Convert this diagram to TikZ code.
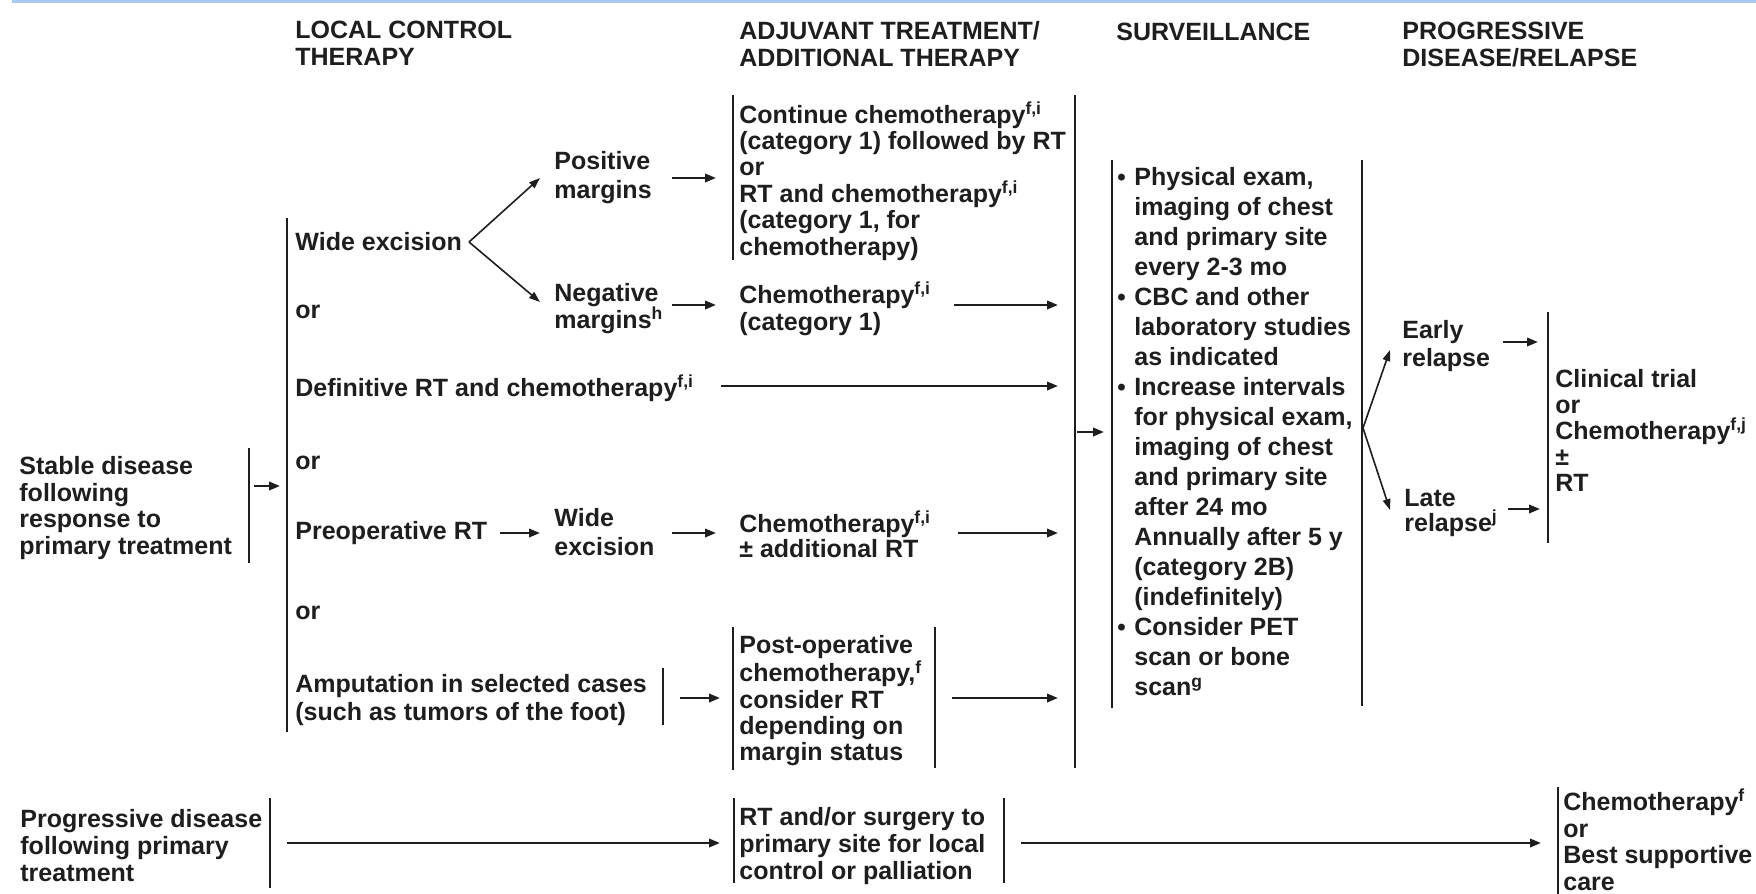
\documentclass[tikz,border=0pt]{standalone}
\usepackage{fontspec}
\setmainfont{Liberation Sans}
\usetikzlibrary{arrows.meta}
\definecolor{ink}{HTML}{1E1E1E}
\definecolor{topblue}{HTML}{A9C9EE}
\newcommand{\sfi}{\textsuperscript{f,i}}
\newcommand{\blt}{\makebox[8.5pt][l]{\fontsize{12}{12}\selectfont\raisebox{0.2pt}{•}}}
\newcommand{\ind}{\hspace*{8.5pt}}
\begin{document}
\begin{tikzpicture}[x=0.5pt,y=-0.5pt,
  txt/.style={font=\fontsize{12.5}{#1}\selectfont\bfseries, align=left, anchor=west, inner sep=0pt, text=ink},
  txt/.default=13.25,
  bar/.style={draw=ink, line width=1pt},
  arr/.style={draw=ink, line width=1.15pt, -{Triangle[length=5.5pt,width=4.2pt]}},
  fork/.style={draw=ink, line width=0.8pt, -{Triangle[length=5.5pt,width=3.8pt]}}]
\useasboundingbox (0,0) rectangle (1756,894);
\fill[white] (0,0) rectangle (1756,894);
\draw[topblue, line width=1.6pt] (12,1) -- (1756,1);

% headers
\node[txt=13.5] (hLocal) at (295,43.5) {LOCAL CONTROL\\THERAPY};
\node[txt=13.5] (hAdj) at (739,44.5) {ADJUVANT TREATMENT/\\ADDITIONAL THERAPY};
\node[txt] (hSurv) at (1116,32) {SURVEILLANCE};
\node[txt=13.5] (hProg) at (1402,44.5) {PROGRESSIVE\\DISEASE/RELAPSE};

% column 1
\node[txt=13.35] (stable) at (19,508) {Stable disease\\following\\response to\\primary treatment};
\draw[bar] (249,448) -- (249,563);
\draw[bar] (287,218) -- (287,732);

% local control therapy
\node[txt] (wide) at (295,242) {Wide excision};
\node[txt] (or1) at (295,312) {or};
\node[txt] (defin) at (295,388) {Definitive RT and chemotherapy\sfi};
\node[txt] (or2) at (295,463) {or};
\node[txt] (preop) at (295,533) {Preoperative RT};
\node[txt] (or3) at (295,613) {or};
\node[txt=14] (amput) at (295,700) {Amputation in selected cases\\(such as tumors of the foot)};
\draw[bar] (663,668) -- (663,725);

\node[txt=14.5] (posm) at (554,177.5) {Positive\\margins};
\node[txt=13.5] (negm) at (554,308.5) {Negative\\margins\textsuperscript{h}};
\node[txt=14.5] (wide2) at (554,532.5) {Wide\\excision};

% adjuvant
\node[txt=13.2] (cont) at (739,181) {Continue chemotherapy\sfi\\(category 1) followed by RT\\or\\RT and chemotherapy\sfi\\(category 1, for\\chemotherapy)};
\draw[bar] (733,95) -- (733,260);
\node[txt=13.5] (chemo1) at (739,308.5) {Chemotherapy\sfi\\(category 1)};
\node[txt=12.8] (chemo2) at (739,534.5) {Chemotherapy\sfi\\\textpm\ additional RT};
\node[txt=13.15] (postop) at (739,700.5) {Post-operative\\chemotherapy,\textsuperscript{f}\\consider RT\\depending on\\margin status};
\draw[bar] (733,627) -- (733,770);
\draw[bar] (935,627) -- (935,768);

% collector
\draw[bar] (1075,95) -- (1075,768);

% surveillance
\node[txt=15] (surv) at (1117,432) {\blt Physical exam,\\\ind imaging of chest\\\ind and primary site\\\ind every 2-3 mo\\\blt CBC and other\\\ind laboratory studies\\\ind as indicated\\\blt Increase intervals\\\ind for physical exam,\\\ind imaging of chest\\\ind and primary site\\\ind after 24 mo\\\ind Annually after 5 y\\\ind (category 2B)\\\ind (indefinitely)\\\blt Consider PET\\\ind scan or bone\\\ind scan\textsuperscript{g}};
\draw[bar] (1112,160) -- (1112,708);
\draw[bar] (1362,160) -- (1362,706);

% relapse
\node[txt=14] (early) at (1402,346) {Early\\relapse};
\node[txt=12.5] (late) at (1404,512.5) {Late\\relapse\textsuperscript{j}};
\draw[bar] (1548,312) -- (1548,543);
\node[txt=13] (clin) at (1555,430) {Clinical trial\\or\\Chemotherapy\textsuperscript{f,j}\\\textpm\\RT};

% bottom row
\node[txt=13.5] (prog) at (20,846) {Progressive disease\\following primary\\treatment};
\draw[bar] (270,798) -- (270,888);
\node[txt=13.5] (rts) at (739,846) {RT and/or surgery to\\primary site for local\\control or palliation};
\draw[bar] (734,798) -- (734,883);
\draw[bar] (1004,798) -- (1004,883);
\node[txt=13.4] (final) at (1563,840) {Chemotherapy\textsuperscript{f}\\or\\Best supportive\\care};
\draw[bar] (1558,787) -- (1558,894);

% connector coordinates
\coordinate (fk) at (469,242);
\coordinate (tPos) at (540,178);
\coordinate (tNeg) at (540,302);
\coordinate (sPos) at (672,178); \coordinate (ePos) at (716,178);
\coordinate (sNeg) at (672,305); \coordinate (eNeg) at (716,305);
\coordinate (sPre) at (500,533); \coordinate (ePre) at (540,533);
\coordinate (sWid) at (672,533); \coordinate (eWid) at (716,533);
\coordinate (sAmp) at (680,698); \coordinate (eAmp) at (720,698);
\coordinate (sStb) at (254,486); \coordinate (eStb) at (280,486);
\coordinate (sC1) at (954,305); \coordinate (eC1) at (1058,305);
\coordinate (sDef) at (721,386); \coordinate (eDef) at (1058,386);
\coordinate (sC2) at (958,533); \coordinate (eC2) at (1058,533);
\coordinate (sPo) at (952,698); \coordinate (ePo) at (1058,698);
\coordinate (sCol) at (1077,432); \coordinate (eCol) at (1104,432);
\coordinate (fk2) at (1363,428);
\coordinate (tEar) at (1390,350);
\coordinate (tLat) at (1390,510);
\coordinate (sEar) at (1503,342); \coordinate (eEar) at (1538,342);
\coordinate (sLat) at (1508,509); \coordinate (eLat) at (1540,509);
\coordinate (sPrg) at (287,843); \coordinate (ePrg) at (720,843);
\coordinate (sRts) at (1021,843); \coordinate (eRts) at (1541,843);

% connectors
\draw[arr] (sStb) -- (eStb);
\draw[fork] (fk) -- (tPos);
\draw[fork] (fk) -- (tNeg);
\draw[arr] (sPos) -- (ePos);
\draw[arr] (sNeg) -- (eNeg);
\draw[arr] (sPre) -- (ePre);
\draw[arr] (sWid) -- (eWid);
\draw[arr] (sAmp) -- (eAmp);
\draw[arr] (sC1) -- (eC1);
\draw[arr] (sDef) -- (eDef);
\draw[arr] (sC2) -- (eC2);
\draw[arr] (sPo) -- (ePo);
\draw[arr] (sCol) -- (eCol);
\draw[fork] (fk2) -- (tEar);
\draw[fork] (fk2) -- (tLat);
\draw[arr] (sEar) -- (eEar);
\draw[arr] (sLat) -- (eLat);
\draw[arr] (sPrg) -- (ePrg);
\draw[arr] (sRts) -- (eRts);
\end{tikzpicture}
\end{document}
